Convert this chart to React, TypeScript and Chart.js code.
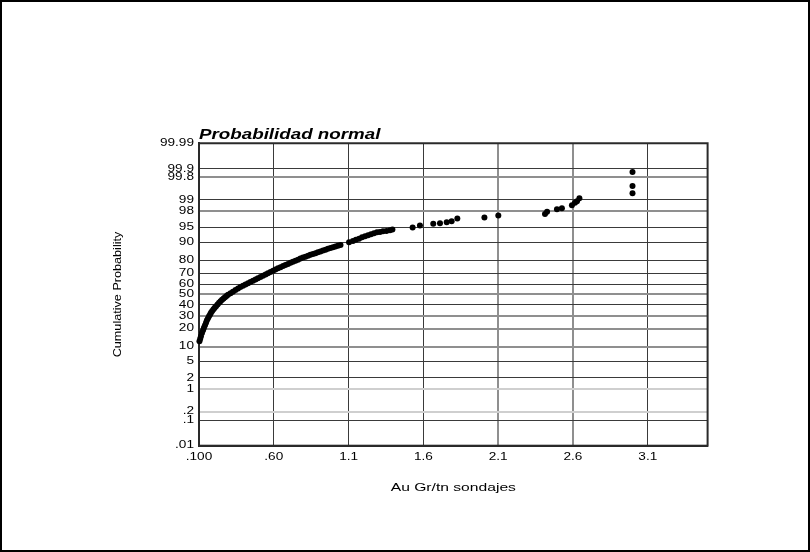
import React, { useEffect, useRef } from 'react';
import { Chart, registerables, LinearScale } from 'chart.js';

// ---------- data ----------
const AU_GRADE = [
  0.103, 0.108, 0.113, 0.120, 0.127, 0.133, 0.140, 0.147, 0.153, 0.160,
  0.167, 0.174, 0.180, 0.188, 0.197, 0.205, 0.214, 0.224, 0.234, 0.244,
  0.254, 0.264, 0.274, 0.284, 0.294,
  0.311, 0.327, 0.344, 0.361, 0.377, 0.394, 0.411, 0.428, 0.444, 0.461,
  0.478, 0.494, 0.511, 0.528, 0.545, 0.561, 0.578, 0.595, 0.611, 0.628, 0.645,
  0.662, 0.678, 0.695, 0.712, 0.728, 0.745, 0.762, 0.778, 0.795, 0.812,
  0.829, 0.845, 0.862, 0.879, 0.895, 0.912, 0.929, 0.946, 0.962, 0.979,
  0.996, 1.012, 1.029, 1.046, 1.103,
  1.129, 1.149, 1.170, 1.190, 1.210, 1.230, 1.250, 1.270, 1.290, 1.310,
  1.330, 1.353, 1.377, 1.393,
  1.528, 1.577, 1.666, 1.711, 1.756, 1.789, 1.827,
  2.008, 2.101,
  2.413, 2.427, 2.493, 2.526, 2.593, 2.613, 2.627, 2.643,
  2.998, 2.998, 2.998,
];
const CUM_PROB = [
  12.5, 13.8, 15.2, 17.1, 18.9, 20.6, 22.4, 24.4, 26.3, 28.0,
  29.6, 31.2, 32.6, 34.3, 35.8, 37.2, 38.6, 40.3, 41.9, 43.4,
  44.8, 46.1, 47.3, 48.5, 49.7,
  51.3, 52.7, 54.3, 55.9, 57.3, 58.5, 59.7, 60.8, 62.0, 63.2,
  64.4, 65.5, 66.6, 67.7, 68.8, 69.9, 71.0, 72.0, 73.0, 74.0, 74.9,
  75.8, 76.6, 77.4, 78.2, 79.0, 79.7, 80.4, 81.2, 81.8, 82.3,
  82.9, 83.5, 84.0, 84.5, 85.0, 85.5, 86.0, 86.5, 87.0, 87.4,
  87.7, 88.1, 88.5, 88.8, 90.1,
  90.6, 91.1, 91.5, 92.0, 92.4, 92.7, 93.1, 93.4, 93.7, 93.8,
  94.0, 94.1, 94.3, 94.5,
  95.0, 95.5, 95.9, 96.0, 96.2, 96.4, 96.9,
  97.1, 97.4,
  97.6, 97.9, 98.2, 98.3, 98.6, 98.8, 98.9, 99.1,
  99.36, 99.62, 99.87,
];

const X_TICKS = [0.1, 0.6, 1.1, 1.6, 2.1, 2.6, 3.1];
const X_TICK_LABELS = ['.100', '.60', '1.1', '1.6', '2.1', '2.6', '3.1'];
const X_MIN = 0.1;
const X_MAX = 3.5;

const Y_TICKS = [0.01, 0.1, 0.2, 1, 2, 5, 10, 20, 30, 40, 50, 60, 70, 80, 90, 95, 98, 99, 99.8, 99.9, 99.99];
const Y_TICK_LABELS = ['.01', '.1', '.2', '1', '2', '5', '10', '20', '30', '40', '50', '60', '70', '80', '90', '95', '98', '99', '99.8', '99.9', '99.99'];
const P_MIN = 0.01;
const P_MAX = 99.99;

const TITLE = 'Probabilidad normal';
const X_TITLE = 'Au Gr/tn sondajes';
const Y_TITLE = 'Cumulative Probability';

// ---------- style ----------
const FONT = "'Liberation Sans', Arial, Helvetica, sans-serif";
const TEXT_STRETCH = 1.36;
const ROTATED_TEXT_STRETCH = 1.24;
const GRAY_Y = [99.8, 98, 50, 30, 20, 10];
const LIGHT_Y = [1, 0.2];
const GRAY_X = [2.1, 2.6];

// ---------- normal probability helpers ----------
function probit(pct: number): number {
  let p = pct / 100;
  p = Math.min(Math.max(p, 1e-9), 1 - 1e-9);
  const a = [-3.969683028665376e1, 2.209460984245205e2, -2.759285104469687e2, 1.38357751867269e2, -3.066479806614716e1, 2.506628277459239];
  const b = [-5.447609879822406e1, 1.615858368580409e2, -1.556989798598866e2, 6.680131188771972e1, -1.328068155288572e1];
  const c = [-7.784894002430293e-3, -3.223964580411365e-1, -2.400758277161838, -2.549732539343734, 4.374664141464968, 2.938163982698783];
  const d = [7.784695709041462e-3, 3.224671290700398e-1, 2.445134137142996, 3.754408661907416];
  const pl = 0.02425;
  if (p < pl) {
    const q = Math.sqrt(-2 * Math.log(p));
    return (((((c[0] * q + c[1]) * q + c[2]) * q + c[3]) * q + c[4]) * q + c[5]) / ((((d[0] * q + d[1]) * q + d[2]) * q + d[3]) * q + 1);
  }
  if (p > 1 - pl) {
    const q = Math.sqrt(-2 * Math.log(1 - p));
    return -(((((c[0] * q + c[1]) * q + c[2]) * q + c[3]) * q + c[4]) * q + c[5]) / ((((d[0] * q + d[1]) * q + d[2]) * q + d[3]) * q + 1);
  }
  const q = p - 0.5;
  const r = q * q;
  return ((((((a[0] * r + a[1]) * r + a[2]) * r + a[3]) * r + a[4]) * r + a[5]) * q) / (((((b[0] * r + b[1]) * r + b[2]) * r + b[3]) * r + b[4]) * r + 1);
}
function normCdf(z: number): number {
  const t = 1 / (1 + 0.3275911 * Math.abs(z) / Math.SQRT2);
  const y = 1 - (((((1.061405429 * t - 1.453152027) * t + 1.421413741) * t - 0.284496736) * t + 0.254829592) * t) * Math.exp(-(z * z) / 2);
  return z >= 0 ? (1 + y) / 2 : (1 - y) / 2;
}

// Normal-probability axis (values in percent)
class ProbitScale extends (LinearScale as any) {
  static id = 'probit';
  static defaults = {};
  determineDataLimits() {
    const o: any = (this as any).options;
    (this as any).min = o.min ?? P_MIN;
    (this as any).max = o.max ?? P_MAX;
  }
  buildTicks() {
    return Y_TICKS.map((v) => ({ value: v }));
  }
  configure() {
    super.configure();
    (this as any)._zStart = probit((this as any).min);
    (this as any)._zEnd = probit((this as any).max);
  }
  getPixelForValue(value: number) {
    const s: any = this;
    return s.getPixelForDecimal((probit(value) - s._zStart) / (s._zEnd - s._zStart));
  }
  getValueForPixel(pixel: number) {
    const s: any = this;
    const dec = s.getDecimalForPixel(pixel);
    return 100 * normCdf(s._zStart + dec * (s._zEnd - s._zStart));
  }
}

Chart.register(...registerables, ProbitScale as any);

const stretchTextPlugin = {
  id: 'stretchText',
  beforeInit(chart: any) {
    const ctx: any = chart.ctx;
    const orig = ctx.fillText;
    ctx.fillText = function (text: string, x: number, y: number, maxWidth?: number) {
      const m = this.getTransform();
      const rotated = Math.abs(m.b) > 1e-6;
      const sx = rotated ? ROTATED_TEXT_STRETCH : TEXT_STRETCH;
      this.save();
      this.translate(x, y);
      this.scale(sx, 1);
      if (maxWidth === undefined || maxWidth === null) orig.call(this, text, 0, 0);
      else orig.call(this, text, 0, 0, maxWidth / sx);
      this.restore();
    };
  },
};

const framePlugin = {
  id: 'frames',
  beforeDatasetsDraw(chart: any) {
    const { ctx, chartArea } = chart;
    ctx.save();
    ctx.strokeStyle = '#2a2a2a';
    ctx.lineWidth = 2;
    ctx.strokeRect(chartArea.left, chartArea.top, chartArea.right - chartArea.left, chartArea.bottom - chartArea.top);
    ctx.restore();
  },
  afterDraw(chart: any) {
    const { ctx, width, height } = chart;
    ctx.save();
    ctx.strokeStyle = '#000';
    ctx.lineWidth = 2;
    ctx.strokeRect(1, 1, width - 2, height - 2);
    ctx.restore();
  },
};

export default function App() {
  const ref = useRef<HTMLCanvasElement | null>(null);
  useEffect(() => {
    document.body.style.margin = '0';
    const canvas = ref.current;
    if (!canvas) return;
    const points = AU_GRADE.map((x, i) => ({ x, y: CUM_PROB[i] }));
    const chart = new Chart(canvas, {
      type: 'scatter',
      data: {
        datasets: [
          {
            data: points,
            pointRadius: 3,
            pointHoverRadius: 3,
            pointBackgroundColor: '#000',
            pointBorderWidth: 0,
            clip: false as any,
          },
        ],
      },
      options: {
        responsive: false,
        maintainAspectRatio: false,
        animation: false,
        events: [],
        layout: { padding: { left: 108, right: 102.4, top: 125.3, bottom: 53.1 } },
        plugins: {
          legend: { display: false },
          tooltip: { enabled: false },
          title: {
            display: true,
            text: TITLE,
            align: 'start',
            fullSize: false,
            color: '#000',
            font: { family: FONT, size: 13.8, style: 'italic', weight: 'bold' },
            padding: { top: 1.4, bottom: 0 },
          },
        },
        scales: {
          x: {
            type: 'linear',
            min: X_MIN,
            max: X_MAX,
            afterBuildTicks: (s: any) => {
              s.ticks = X_TICKS.map((v) => ({ value: v }));
            },
            afterFit: (s: any) => {
              s.height = 53.2;
            },
            ticks: {
              autoSkip: false,
              maxRotation: 0,
              padding: 6,
              color: '#000',
              font: { family: FONT, size: 10 },
              callback: (_v: any, i: number) => X_TICK_LABELS[i],
            },
            grid: {
              drawTicks: false,
              color: (c: any) => (c.tick && GRAY_X.includes(c.tick.value) ? '#8f8f8f' : '#3a3a3a'),
              lineWidth: (c: any) => (c.tick && GRAY_X.includes(c.tick.value) ? 2 : 1),
            },
            border: { display: true, color: '#2a2a2a', width: 2 },
            title: {
              display: true,
              text: X_TITLE,
              color: '#000',
              font: { family: FONT, size: 11.5 },
              padding: { top: 4, bottom: 4 },
            },
          },
          y: {
            type: 'probit' as any,
            min: P_MIN,
            max: P_MAX,
            afterFit: (s: any) => {
              s.width = 91;
            },
            ticks: {
              autoSkip: false,
              padding: 5,
              color: '#000',
              font: { family: FONT, size: 10 },
              callback: (_v: any, i: number) => Y_TICK_LABELS[i],
            },
            grid: {
              drawTicks: false,
              color: (c: any) => {
                const v = c.tick ? c.tick.value : null;
                if (LIGHT_Y.includes(v)) return '#cfcfcf';
                if (GRAY_Y.includes(v)) return '#8f8f8f';
                return '#3a3a3a';
              },
              lineWidth: (c: any) => {
                const v = c.tick ? c.tick.value : null;
                return LIGHT_Y.includes(v) || GRAY_Y.includes(v) ? 2 : 1;
              },
            },
            border: { display: true, color: '#2a2a2a', width: 2 },
            title: {
              display: true,
              text: Y_TITLE,
              color: '#000',
              font: { family: FONT, size: 10.2 },
              padding: { top: 4, bottom: 4 },
            },
          },
        } as any,
      },
      plugins: [stretchTextPlugin, framePlugin],
    } as any);
    return () => chart.destroy();
  }, []);

  return (
    <div style={{ width: 810, height: 552, background: '#fff' }}>
      <canvas ref={ref} width={810} height={552} style={{ display: 'block' }} />
    </div>
  );
}
